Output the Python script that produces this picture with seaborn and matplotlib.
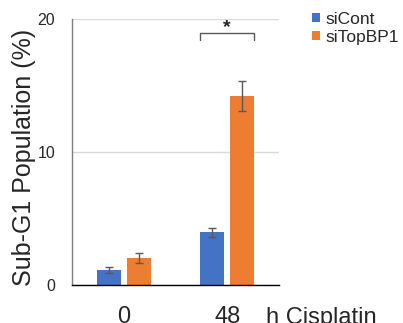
import matplotlib
matplotlib.use("Agg")
import matplotlib.pyplot as plt
import seaborn as sns
import pandas as pd
import numpy as np

times = ["0", "48"]
groups = ["siCont", "siTopBP1"]
sicont_vals = [1.13, 3.96]
sicont_err = [0.24, 0.36]
sitop_vals = [2.03, 14.19]
sitop_err = [0.41, 1.12]
colors = ["#4472C4", "#ED7D31"]
yticks = [0, 10, 20]

df = pd.DataFrame({
    "time": times * 2,
    "group": [groups[0]] * 2 + [groups[1]] * 2,
    "value": sicont_vals + sitop_vals,
    "err": sicont_err + sitop_err,
})

sns.set_style("white")
plt.rcParams["font.family"] = ["Liberation Sans", "DejaVu Sans"]

fig = plt.figure(figsize=(4.03, 3.23), dpi=100)
ax = fig.add_axes([72/403, 1-285/323, 207/403, 266/323])

sns.barplot(data=df, x="time", y="value", hue="group", palette=colors,
            saturation=1, width=0.58, gap=0.2, errorbar=None, ax=ax,
            linewidth=0, hue_order=groups, order=times)

# error bars from bar geometry
for cont, g in zip(ax.containers, groups):
    sub = df[df.group == g].set_index("time").loc[times]
    xs = [b.get_x() + b.get_width()/2 for b in cont]
    ax.errorbar(xs, sub["value"], yerr=sub["err"], fmt="none",
                ecolor="#595959", elinewidth=1, capsize=3, capthick=1)

ax.set_ylim(0, 20)
ax.set_xlim(-0.5, 1.5)
ax.set_yticks(yticks)
ax.set_yticklabels([str(t) for t in yticks], fontsize=11.5)
ax.tick_params(axis="y", length=0, pad=12)
ax.tick_params(axis="x", length=0, pad=15, labelsize=17)
ax.yaxis.grid(True, color="#d9d9d9", linewidth=1)
ax.set_axisbelow(True)
for s in ["top", "right"]:
    ax.spines[s].set_visible(False)
ax.spines["left"].set_color("#7f7f7f")
ax.spines["left"].set_linewidth(1)
ax.spines["bottom"].set_color("black")
ax.spines["bottom"].set_linewidth(1)

ax.set_xlabel("")
ax.set_ylabel("Sub-G1 Population (%)", fontsize=18)
ax.yaxis.set_label_coords(-0.175, 0.48)

# significance bracket
b1 = ax.containers[0][1]
b2 = ax.containers[1][1]
x1 = b1.get_x()
x2 = b2.get_x() + b2.get_width()
ax.plot([x1, x1, x2, x2], [18.42, 18.92, 18.92, 18.42], color="#595959",
        lw=1, clip_on=False)
ax.text((x1 + x2)/2, 19.35, "*", ha="center", va="center", fontsize=14,
        fontweight="bold")

fig.text(266/403, 1-324/323, "h Cisplatin", fontsize=17, va="baseline",
         ha="left")

handles, labels = ax.get_legend_handles_labels()
ax.legend(handles, labels, loc="upper left",
          bbox_to_anchor=(312/403, 1-12/323), bbox_transform=fig.transFigure,
          frameon=False, fontsize=12.5, handlelength=0.45, handleheight=0.45,
          handletextpad=0.3, borderpad=0, borderaxespad=0, labelspacing=0.15)

fig.savefig("out.png", dpi=100)
